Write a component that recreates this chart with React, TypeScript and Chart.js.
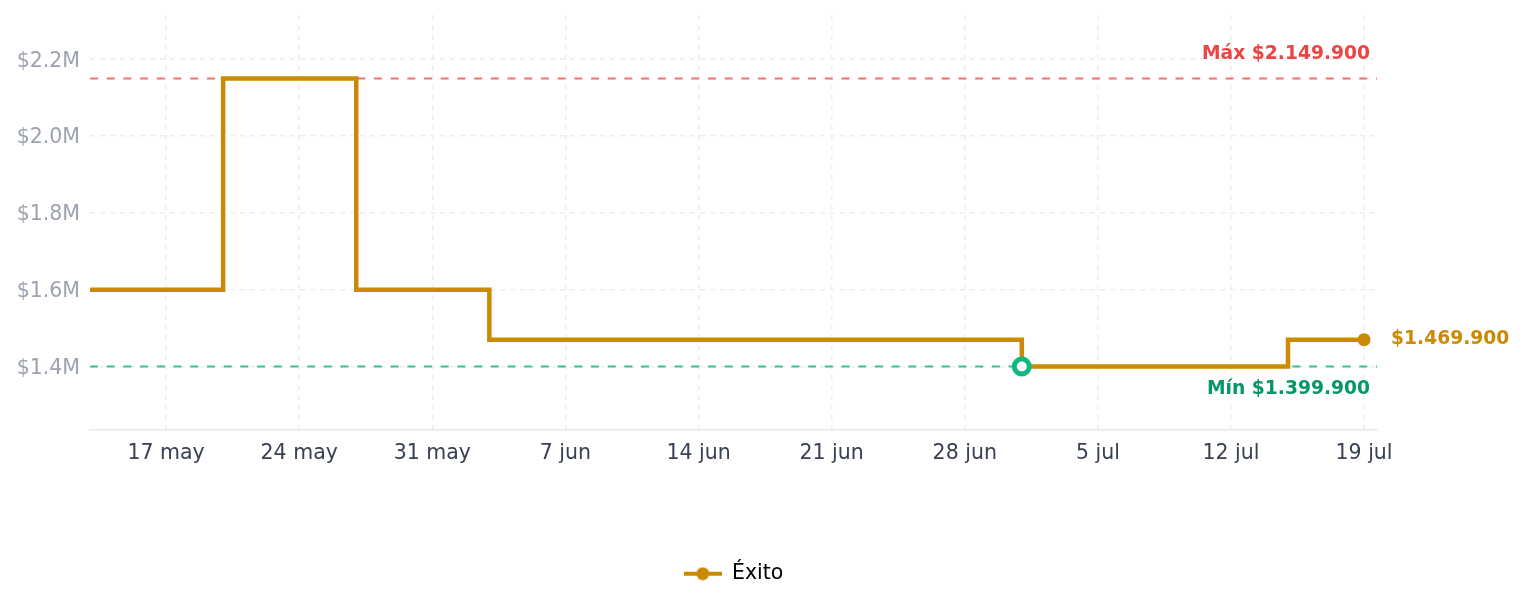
import React, { useEffect, useRef } from 'react';
import { Chart, registerables } from 'chart.js';

Chart.register(...registerables);

const seriesName = 'Éxito';
const dates = ['2024-05-13', '2024-05-20', '2024-05-27', '2024-06-03', '2024-06-10', '2024-06-17', '2024-06-24', '2024-07-01', '2024-07-08', '2024-07-15', '2024-07-19'];
const prices = [1599900, 2149900, 1599900, 1469900, 1469900, 1469900, 1469900, 1399900, 1399900, 1469900, 1469900];
const xTickDates = ['2024-05-17', '2024-05-24', '2024-05-31', '2024-06-07', '2024-06-14', '2024-06-21', '2024-06-28', '2024-07-05', '2024-07-12', '2024-07-19'];
const xTickLabels = ['17 may', '24 may', '31 may', '7 jun', '14 jun', '21 jun', '28 jun', '5 jul', '12 jul', '19 jul'];
const yTicks = [1400000, 1600000, 1800000, 2000000, 2200000];
const yMin = 1235000;
const yMax = 2315000;
const maxLabel = 'Máx $2.149.900';
const minLabel = 'Mín $1.399.900';
const lastLabel = '$1.469.900';

const LINE = '#ca8a04';
const FONT = '"DejaVu Sans", sans-serif';

const origin = Date.parse(xTickDates[0]);
const toDay = (d: string) => (Date.parse(d) - origin) / 86400000;

export default function App() {
  const ref = useRef<HTMLCanvasElement>(null);

  useEffect(() => {
    if (!ref.current) return;
    const points = dates.map((d, i) => ({ x: toDay(d), y: prices[i] }));
    const maxV = Math.max(...prices);
    const minV = Math.min(...prices);
    const minIdx = prices.indexOf(minV);
    const lastIdx = prices.length - 1;
    const tickDays = xTickDates.map(toDay);

    const legendImg = document.createElement('canvas');
    legendImg.width = 38;
    legendImg.height = 14;
    const lc = legendImg.getContext('2d')!;
    lc.strokeStyle = LINE;
    lc.lineWidth = 4;
    lc.beginPath();
    lc.moveTo(0, 7);
    lc.lineTo(38, 7);
    lc.stroke();
    lc.fillStyle = LINE;
    lc.beginPath();
    lc.arc(19, 7, 6.5, 0, Math.PI * 2);
    lc.fill();

    const refLines = {
      id: 'refLines',
      beforeDatasetsDraw(chart: any) {
        const { ctx, chartArea, scales } = chart;
        const y = scales.y;
        ctx.save();
        ctx.lineWidth = 2;
        ctx.setLineDash([8, 8.7]);
        ctx.strokeStyle = '#f87171';
        const yMaxPx = y.getPixelForValue(maxV);
        ctx.beginPath();
        ctx.moveTo(chartArea.left, yMaxPx);
        ctx.lineTo(chartArea.right, yMaxPx);
        ctx.stroke();
        ctx.strokeStyle = 'rgba(16,185,129,0.85)';
        const yMinPx = y.getPixelForValue(minV);
        ctx.beginPath();
        ctx.moveTo(chartArea.left, yMinPx);
        ctx.lineTo(chartArea.right, yMinPx);
        ctx.stroke();
        ctx.restore();
      },
      afterDatasetsDraw(chart: any) {
        const { ctx, chartArea, scales } = chart;
        const x = scales.x;
        const y = scales.y;
        ctx.save();
        ctx.font = `bold 18.7px ${FONT}`;
        ctx.textBaseline = 'middle';
        ctx.textAlign = 'right';
        ctx.fillStyle = '#ef4444';
        ctx.fillText(maxLabel, chartArea.right - 7, y.getPixelForValue(maxV) - 24);
        ctx.fillStyle = '#059669';
        ctx.fillText(minLabel, chartArea.right - 7, y.getPixelForValue(minV) + 23);
        ctx.textAlign = 'left';
        ctx.fillStyle = LINE;
        ctx.fillText(lastLabel, x.getPixelForValue(points[lastIdx].x) + 27, y.getPixelForValue(prices[lastIdx]) - 1);
        ctx.restore();
      },
    };

    const chart = new Chart(ref.current, {
      type: 'line',
      data: {
        datasets: [
          {
            label: seriesName,
            data: points,
            borderColor: LINE,
            backgroundColor: LINE,
            borderWidth: 4.5,
            stepped: true,
            fill: false,
            pointRadius: (c: any) => (c.dataIndex === minIdx ? 7.5 : c.dataIndex === lastIdx ? 6.5 : 0),
            pointBackgroundColor: (c: any) => (c.dataIndex === minIdx ? '#ffffff' : LINE),
            pointBorderColor: (c: any) => (c.dataIndex === minIdx ? '#10b981' : LINE),
            pointBorderWidth: (c: any) => (c.dataIndex === minIdx ? 5 : 0),
          },
        ],
      },
      options: {
        animation: false,
        responsive: true,
        maintainAspectRatio: false,
        events: [],
        layout: { padding: { left: 8.7, right: 139, top: 7, bottom: 5 } },
        font: { family: FONT },
        scales: {
          x: {
            type: 'linear',
            min: toDay(dates[0]),
            max: toDay(dates[dates.length - 1]) + 0.68,
            afterBuildTicks: (s: any) => {
              s.ticks = tickDays.map((v) => ({ value: v }));
            },
            afterFit: (s: any) => {
              s.height += 77;
              s.paddingLeft = 0;
              s.paddingRight = 0;
            },
            ticks: {
              color: '#374151',
              font: { family: FONT, size: 20.5 },
              padding: 11,
              maxRotation: 0,
              autoSkip: false,
              callback: (v: any) => {
                const i = tickDays.indexOf(Number(v));
                return i >= 0 ? xTickLabels[i] : '';
              },
            },
            grid: { color: '#eeeeee', lineWidth: 1.5, drawTicks: false },
            border: { display: true, color: '#e5e7eb', width: 1.5, dash: [5, 5] },
          },
          y: {
            min: yMin,
            max: yMax,
            afterBuildTicks: (s: any) => {
              s.ticks = yTicks.map((v) => ({ value: v }));
            },
            afterFit: (s: any) => {
              s.paddingTop = 0;
              s.paddingBottom = 0;
              s.width -= 10;
            },
            ticks: {
              color: '#9ca3af',
              font: { family: FONT, size: 20.5 },
              padding: 10,
              labelOffset: 2,
              callback: (v: any) => '$' + (Number(v) / 1e6).toFixed(1) + 'M',
            },
            grid: { color: '#eeeeee', lineWidth: 1.5, drawTicks: false },
            border: { display: false, dash: [5, 5] },
          },
        },
        plugins: {
          tooltip: { enabled: false },
          legend: {
            position: 'bottom',
            fullSize: false,
            labels: {
              color: '#111111',
              font: { family: FONT, size: 20.5 },
              padding: 10,
              usePointStyle: true,
              pointStyleWidth: 38,
              generateLabels: () => [
                {
                  text: seriesName,
                  pointStyle: legendImg,
                  fillStyle: LINE,
                  strokeStyle: LINE,
                  lineWidth: 0,
                  hidden: false,
                  datasetIndex: 0,
                } as any,
              ],
            },
          },
        },
      },
      plugins: [refLines],
    } as any);

    return () => chart.destroy();
  }, []);

  return (
    <div style={{ position: 'relative', width: '100%', height: 591 }}>
      <canvas ref={ref} />
    </div>
  );
}
